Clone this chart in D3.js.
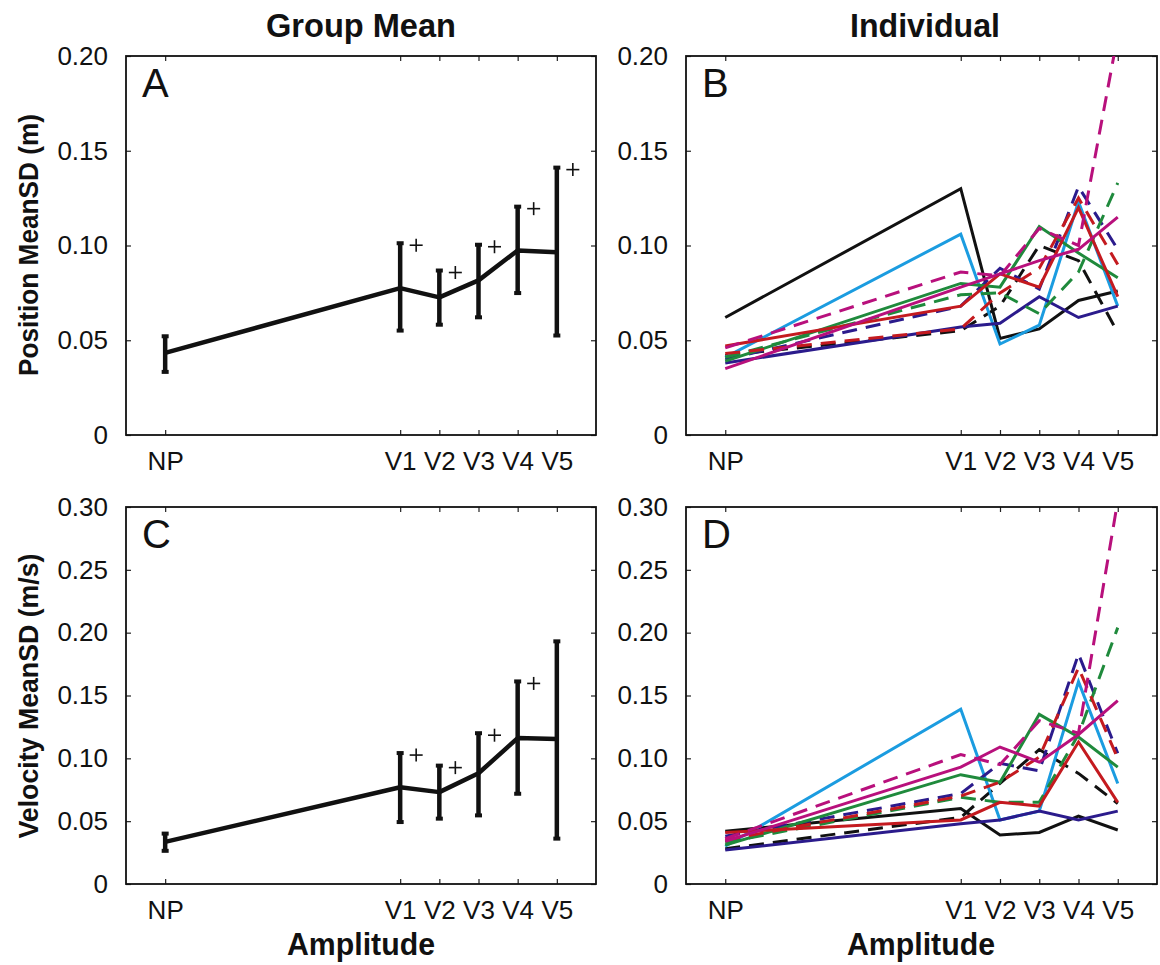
<!DOCTYPE html>
<html>
<head>
<meta charset="utf-8">
<script src="https://cdn.jsdelivr.net/npm/d3@7"></script>
<style>
  body { margin: 0; background: #fff; }
  svg { display: block; }
</style>
</head>
<body>
<div id="chart"></div>
<script>
// amplitude conditions and their positions on the x axis
var xLabels = ["NP", "V1", "V2", "V3", "V4", "V5"];
var xPos = [1, 7, 8, 9, 10, 11];

// group means (panel A: position, panel C: velocity)
var posMean = [0.0433, 0.0775, 0.0726, 0.0816, 0.0974, 0.0965];
var posLow  = [0.0333, 0.0551, 0.0582, 0.0621, 0.0749, 0.0525];
var posHigh = [0.0521, 0.1012, 0.0868, 0.1004, 0.1205, 0.1411];
var posSig  = [false, true, true, true, true, true];

var velMean = [0.0335, 0.0770, 0.0731, 0.0881, 0.1161, 0.1153];
var velLow  = [0.0264, 0.0493, 0.0520, 0.0546, 0.0718, 0.0361];
var velHigh = [0.0401, 0.1042, 0.0942, 0.1200, 0.1612, 0.1931];
var velSig  = [false, true, true, true, true, false];

// individual participants (panels B and D)
var subjColors = ["#111111", "#111111", "#1b9ce0", "#2b1b8c", "#2b1b8c", "#1f8a3c",
                  "#1f8a3c", "#c41a1f", "#c41a1f", "#b8107c", "#b8107c"];
var subjDashed = [false, true, false, false, true, false, true, false, true, false, true];

var posIndiv = [
  [0.062, 0.130, 0.051, 0.056, 0.071, 0.076],
  [0.042, 0.055, 0.068, 0.100, 0.092, 0.054],
  [0.041, 0.106, 0.048, 0.058, 0.123, 0.068],
  [0.038, 0.057, 0.059, 0.073, 0.062, 0.068],
  [0.040, 0.068, 0.088, 0.077, 0.131, 0.098],
  [0.039, 0.080, 0.078, 0.110, 0.096, 0.083],
  [0.041, 0.074, 0.075, 0.064, 0.086, 0.133],
  [0.047, 0.068, 0.085, 0.078, 0.120, 0.073],
  [0.043, 0.056, 0.075, 0.088, 0.125, 0.090],
  [0.035, 0.078, 0.085, 0.092, 0.098, 0.115],
  [0.046, 0.086, 0.084, 0.109, 0.100, 0.211]
];

var velIndiv = [
  [0.042, 0.060, 0.039, 0.041, 0.054, 0.043],
  [0.028, 0.053, 0.080, 0.107, 0.088, 0.064],
  [0.030, 0.139, 0.051, 0.058, 0.161, 0.080],
  [0.027, 0.048, 0.051, 0.058, 0.051, 0.058],
  [0.038, 0.072, 0.096, 0.090, 0.183, 0.104],
  [0.031, 0.087, 0.081, 0.135, 0.117, 0.093],
  [0.033, 0.069, 0.065, 0.065, 0.119, 0.204],
  [0.041, 0.051, 0.065, 0.062, 0.113, 0.065],
  [0.035, 0.070, 0.081, 0.101, 0.172, 0.100],
  [0.034, 0.093, 0.109, 0.097, 0.119, 0.146],
  [0.036, 0.103, 0.095, 0.130, 0.120, 0.305]
];

var posTicks = [0, 0.05, 0.10, 0.15, 0.20];
var velTicks = [0, 0.05, 0.10, 0.15, 0.20, 0.25, 0.30];

var W = 1160, H = 965;
var font = "'Liberation Sans', Arial, Helvetica, sans-serif";

var svg = d3.select("#chart").append("svg")
    .attr("width", W)
    .attr("height", H)
    .style("font-family", font);

var fmt = function(d) { return d === 0 ? "0" : d3.format(".2f")(d); };

// draws the frame, ticks and labels for one panel, returns scales + group
function makePanel(id, left, top, w, h, yMax, yTicks, letter) {
    var g = svg.append("g").attr("transform", "translate(" + left + "," + top + ")");
    var x = d3.scaleLinear().domain([0, 12]).range([0, w]);
    var y = d3.scaleLinear().domain([0, yMax]).range([h, 0]);

    g.append("clipPath").attr("id", "clip" + id)
        .append("rect").attr("width", w).attr("height", h);

    var axes = [
        g.append("g").attr("transform", "translate(0," + h + ")")
            .call(d3.axisBottom(x).tickValues(xPos).tickSize(-5).tickPadding(17)
                .tickFormat(function(d, i) { return xLabels[i]; })),
        g.append("g")
            .call(d3.axisTop(x).tickValues(xPos).tickSize(-5).tickFormat("")),
        g.append("g")
            .call(d3.axisLeft(y).tickValues(yTicks).tickSize(-5).tickPadding(18).tickFormat(fmt)),
        g.append("g").attr("transform", "translate(" + w + ",0)")
            .call(d3.axisRight(y).tickValues(yTicks).tickSize(-5).tickFormat(""))
    ];
    axes.forEach(function(a) {
        a.attr("font-family", font).attr("font-size", 26);
        a.select(".domain").remove();
        a.selectAll(".tick line").attr("stroke", "#222").attr("stroke-width", 1.2);
        a.selectAll(".tick text").attr("fill", "#111");
    });

    g.append("rect")
        .attr("width", w).attr("height", h)
        .attr("fill", "none").attr("stroke", "#111").attr("stroke-width", 1.8);

    g.append("text")
        .attr("x", 16).attr("y", 41)
        .attr("font-size", 40)
        .attr("fill", "#111")
        .text(letter);

    return {g: g, x: x, y: y, id: id};
}

function drawMean(p, mean, low, high, sig) {
    var pts = xPos.map(function(d, i) {
        return {x: d, m: mean[i], lo: low[i], hi: high[i], s: sig[i]};
    });
    var line = d3.line().x(function(d) { return p.x(d.x); }).y(function(d) { return p.y(d.m); });

    p.g.append("path").datum(pts)
        .attr("d", line)
        .attr("fill", "none").attr("stroke", "#111")
        .attr("stroke-width", 4.5).attr("stroke-linejoin", "round");

    var bars = p.g.selectAll(".err").data(pts).enter().append("g");
    bars.append("line")
        .attr("x1", function(d) { return p.x(d.x); })
        .attr("x2", function(d) { return p.x(d.x); })
        .attr("y1", function(d) { return p.y(d.lo); })
        .attr("y2", function(d) { return p.y(d.hi); })
        .attr("stroke", "#111").attr("stroke-width", 4.5);
    ["lo", "hi"].forEach(function(k) {
        bars.append("line")
            .attr("x1", function(d) { return p.x(d.x) - 3.5; })
            .attr("x2", function(d) { return p.x(d.x) + 3.5; })
            .attr("y1", function(d) { return p.y(d[k]); })
            .attr("y2", function(d) { return p.y(d[k]); })
            .attr("stroke", "#111").attr("stroke-width", 4);
    });

    // significance markers
    var plus = p.g.selectAll(".plus").data(pts.filter(function(d) { return d.s; }))
        .enter().append("g")
        .attr("transform", function(d) {
            return "translate(" + (p.x(d.x) + 16) + "," + (p.y(d.hi) + 2) + ")";
        });
    plus.append("line").attr("x1", -6.5).attr("x2", 6.5)
        .attr("stroke", "#111").attr("stroke-width", 1.6);
    plus.append("line").attr("y1", -6.5).attr("y2", 6.5)
        .attr("stroke", "#111").attr("stroke-width", 1.6);
}

function drawIndiv(p, data) {
    var line = d3.line()
        .x(function(d, i) { return p.x(xPos[i]); })
        .y(function(d) { return p.y(d); });
    p.g.append("g").attr("clip-path", "url(#clip" + p.id + ")")
        .selectAll("path").data(data).enter().append("path")
        .attr("d", line)
        .attr("fill", "none")
        .attr("stroke", function(d, i) { return subjColors[i]; })
        .attr("stroke-width", 3)
        .attr("stroke-dasharray", function(d, i) { return subjDashed[i] ? "15,9" : null; });
}

var pA = makePanel("A", 126, 56, 470, 379, 0.20, posTicks, "A");
var pB = makePanel("B", 686, 56, 471, 379, 0.20, posTicks, "B");
var pC = makePanel("C", 126, 507, 470, 377, 0.30, velTicks, "C");
var pD = makePanel("D", 686, 507, 471, 377, 0.30, velTicks, "D");

drawMean(pA, posMean, posLow, posHigh, posSig);
drawMean(pC, velMean, velLow, velHigh, velSig);
drawIndiv(pB, posIndiv);
drawIndiv(pD, velIndiv);

// bold condensed-looking labels
function boldLabel(x, y, size, len, txt, rotate) {
    var t = svg.append("text")
        .attr("text-anchor", "middle")
        .attr("font-size", size).attr("font-weight", "bold").attr("fill", "#111")
        .attr("textLength", len).attr("lengthAdjust", "spacingAndGlyphs")
        .text(txt);
    if (rotate) t.attr("transform", "translate(" + x + "," + y + ") rotate(-90)");
    else t.attr("x", x).attr("y", y);
}

// column titles
boldLabel(361, 37, 34, 190, "Group Mean");
boldLabel(925, 37, 34, 150, "Individual");

// y axis titles
boldLabel(38, 245, 28, 262, "Position MeanSD (m)", true);
boldLabel(38, 696, 28, 285, "Velocity MeanSD (m/s)", true);

// x axis titles
boldLabel(361, 955, 31, 148, "Amplitude");
boldLabel(921, 955, 31, 148, "Amplitude");
</script>
</body>
</html>
